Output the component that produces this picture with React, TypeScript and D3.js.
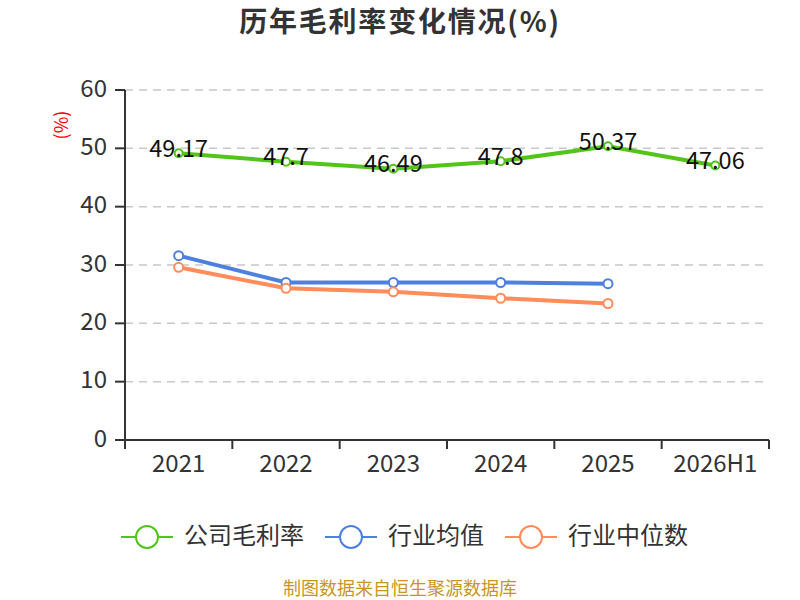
import React from "react";
import * as d3 from "d3";

const categories = ["2021", "2022", "2023", "2024", "2025", "2026H1"];
const companyValues = [49.17, 47.7, 46.49, 47.8, 50.37, 47.06];
const industryAvg = [31.6, 27.0, 27.0, 27.0, 26.8];
const industryMedian = [29.6, 26.0, 25.4, 24.3, 23.4];
const yTicks = [0, 10, 20, 30, 40, 50, 60];

const seriesNames = ["公司毛利率", "行业均值", "行业中位数"];
const colors = ["#52c41a", "#4e80e0", "#ff8c5a"];

const FONT = "'Noto Sans CJK SC', 'Noto Sans', sans-serif";

export default function App() {
  const width = 800;
  const height = 600;
  const left = 125;
  const right = 769;
  const top = 90;
  const bottom = 440;

  const x = d3.scaleBand<string>().domain(categories).range([left, right]);
  const y = d3.scaleLinear().domain([0, 60]).range([bottom, top]);
  const cx = (c: string) => (x(c) as number) + x.bandwidth() / 2;

  const line = d3
    .line<[number, number]>()
    .x((d) => d[0])
    .y((d) => d[1]);

  const seriesData = [companyValues, industryAvg, industryMedian];
  const legendX = [121, 325, 505];

  return (
    <svg width={width} height={height} style={{ display: "block", position: "absolute", left: 0, top: 0 }} fontFamily={FONT}>
      <rect width={width} height={height} fill="#fff" />
      <text x={400} y={32} textAnchor="middle" fontSize={28} fontWeight="bold" fill="#333" letterSpacing={1.8}>
        历年毛利率变化情况(%)
      </text>
      <text
        transform={`translate(63,125) rotate(-90)`}
        textAnchor="middle"
        dominantBaseline="middle"
        fontSize={18}
        fill="#ff0000"
      >
        (%)
      </text>
      {yTicks.map((t) => (
        <g key={t}>
          {t !== 0 && (
            <line x1={left} x2={right} y1={y(t)} y2={y(t)} stroke="#c8c8c8" strokeWidth={1.5} strokeDasharray="8,6" />
          )}
          <line x1={left - 10} x2={left} y1={y(t)} y2={y(t)} stroke="#333" strokeWidth={2} />
          <text x={left - 18} y={y(t)} textAnchor="end" dominantBaseline="middle" fontSize={24} fill="#333">
            {t}
          </text>
        </g>
      ))}
      <line x1={left} x2={left} y1={top} y2={bottom} stroke="#333" strokeWidth={2} />
      <line x1={left} x2={right} y1={bottom} y2={bottom} stroke="#333" strokeWidth={2} />
      {categories.map((c, i) => (
        <line key={"t" + i} x1={x(c) as number} x2={x(c) as number} y1={bottom} y2={bottom + 9} stroke="#333" strokeWidth={2} />
      ))}
      <line x1={right} x2={right} y1={bottom} y2={bottom + 9} stroke="#333" strokeWidth={2} />
      {categories.map((c) => (
        <text key={c} x={cx(c)} y={465} textAnchor="middle" dominantBaseline="middle" fontSize={24} fill="#333">
          {c}
        </text>
      ))}
      {seriesData.map((vals, si) => {
        const pts: [number, number][] = vals.map((v, i) => [cx(categories[i]), y(v)]);
        return (
          <g key={si}>
            <path d={line(pts) as string} fill="none" stroke={colors[si]} strokeWidth={4} />
            {pts.map((p, i) => (
              <circle key={i} cx={p[0]} cy={p[1]} r={si === 0 ? 4 : 4.5} fill="#fff" stroke={colors[si]} strokeWidth={2} />
            ))}
          </g>
        );
      })}
      {companyValues.map((v, i) => (
        <text key={"l" + i} x={cx(categories[i])} y={y(v) - 3} textAnchor="middle" dominantBaseline="middle" fontSize={23.5} fill="#111">
          {v}
        </text>
      ))}
      {seriesNames.map((n, i) => {
        const lx = legendX[i];
        return (
          <g key={n}>
            <line x1={lx} x2={lx + 52} y1={537} y2={537} stroke={colors[i]} strokeWidth={2} />
            <circle cx={lx + 26} cy={537} r={11} fill="#fff" stroke={colors[i]} strokeWidth={2} />
            <text x={lx + 63} y={537} dominantBaseline="middle" fontSize={24} fill="#333">
              {n}
            </text>
          </g>
        );
      })}
      <text x={400} y={590} textAnchor="middle" dominantBaseline="middle" fontSize={18} fill="#c8961e">
        制图数据来自恒生聚源数据库
      </text>
    </svg>
  );
}
